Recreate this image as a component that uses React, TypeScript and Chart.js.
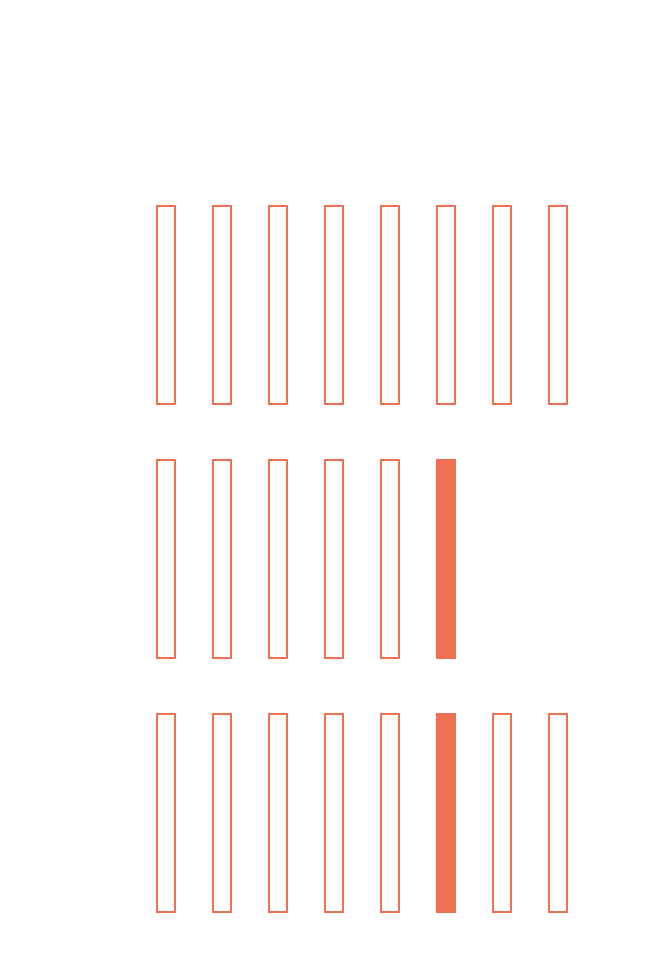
import React, { useEffect, useRef } from "react";
import { Chart, registerables } from "chart.js";

Chart.register(...registerables);

// 0 = outlined, 1 = filled, null = no mark
const columns = ["1", "2", "3", "4", "5", "6", "7", "8"];
const rowA: (number | null)[] = [0, 0, 0, 0, 0, 0, 0, 0];
const rowB: (number | null)[] = [0, 0, 0, 0, 0, 1, null, null];
const rowC: (number | null)[] = [0, 0, 0, 0, 0, 1, 0, 0];
const rows = [rowA, rowB, rowC];

const COLOR = "rgb(239,112,83)";
const BAR_FRACTION = 200 / 254;

export default function App() {
  const ref = useRef<HTMLCanvasElement | null>(null);
  useEffect(() => {
    if (!ref.current) return;
    const datasets = rows.map((row, r) => ({
      label: "row" + (r + 1),
      data: row.map((v) => (v === null ? null : [r, r + BAR_FRACTION])),
      backgroundColor: row.map((v) => (v === 1 ? COLOR : "rgba(255,255,255,0)")),
      borderColor: COLOR,
      borderWidth: row.map((v) => (v === 1 ? 0 : 2)),
      borderSkipped: false as const,
      grouped: false,
      categoryPercentage: 1,
      barPercentage: 20 / 56,
    }));
    const chart = new Chart(ref.current, {
      type: "bar",
      data: { labels: columns, datasets: datasets as any },
      options: {
        animation: false,
        responsive: false,
        maintainAspectRatio: false,
        layout: { padding: { left: 138, right: 68, top: 205, bottom: 65 } },
        plugins: { legend: { display: false }, tooltip: { enabled: false } },
        scales: {
          x: { display: false, offset: true },
          y: {
            display: false,
            reverse: true,
            min: 0,
            max: 2 + BAR_FRACTION,
          },
        },
      },
    });
    return () => chart.destroy();
  }, []);
  return (
    <div style={{ position: "fixed", left: 0, top: 0, width: 654, height: 978, background: "#fff" }}>
      <canvas ref={ref} width={654} height={978} style={{ width: 654, height: 978, display: "block" }} />
    </div>
  );
}
